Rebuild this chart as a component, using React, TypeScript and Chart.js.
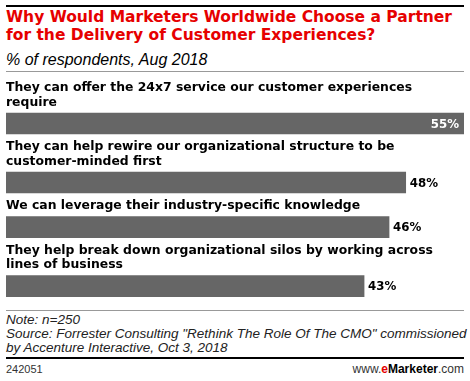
import React, { useEffect, useRef } from "react";
import { Chart, registerables } from "chart.js";

Chart.register(...registerables);

// ---- data ----
const categoryLines: string[][] = [
  ["They can offer the 24x7 service our customer experiences", "require"],
  ["They can help rewire our organizational structure to be", "customer-minded first"],
  ["We can leverage their industry-specific knowledge"],
  ["They help break down organizational silos by working across", "lines of business"],
];
const values: number[] = [55, 48, 46, 43];
const valueLabels: string[] = ["55%", "48%", "46%", "43%"];
const xMax = 55;

const titleLines = [
  "Why Would Marketers Worldwide Choose a Partner",
  "for the Delivery of Customer Experiences?",
];
const subtitle = "% of respondents, Aug 2018";
const noteLines = [
  "Note: n=250",
  'Source: Forrester Consulting "Rethink The Role Of The CMO" commissioned',
  "by Accenture Interactive, Oct 3, 2018",
];
const chartId = "242051";

// layout in "line units" (one label line = 1 unit)
const LINE_PX = 14.5;
const BAR_AFTER_LAST_LINE = 1.45;
const NEXT_AFTER_BAR = 1.62;

function computePositions() {
  const linePos: number[][] = [];
  const barPos: number[] = [];
  let cur = 0;
  categoryLines.forEach((lines) => {
    const lp = lines.map((_, i) => cur + i);
    linePos.push(lp);
    const b = lp[lp.length - 1] + BAR_AFTER_LAST_LINE;
    barPos.push(b);
    cur = b + NEXT_AFTER_BAR;
  });
  return { linePos, barPos };
}

const CANVAS_TOP = 75;
const CANVAS_H = 232;
const FIRST_LINE_Y = 13; // px inside canvas

const LABEL_FONT = "bold 12.4px 'DejaVu Sans'";
const VALUE_FONT = "bold 11.8px 'DejaVu Sans'";

export default function App() {
  const ref = useRef<HTMLCanvasElement | null>(null);

  useEffect(() => {
    if (!ref.current) return;
    const { linePos, barPos } = computePositions();
    const yMin = -FIRST_LINE_Y / LINE_PX;
    const yMax = yMin + CANVAS_H / LINE_PX;

    const labelPlugin = {
      id: "labelPlugin",
      afterDatasetsDraw(chart: any) {
        const ctx = chart.ctx as CanvasRenderingContext2D;
        const yScale = chart.scales.y;
        const area = chart.chartArea;
        const meta = chart.getDatasetMeta(0);
        ctx.save();
        ctx.font = LABEL_FONT;
        ctx.fillStyle = "#000";
        ctx.textAlign = "left";
        ctx.textBaseline = "middle";
        categoryLines.forEach((lines, i) => {
          lines.forEach((t, j) => {
            ctx.fillText(t, area.left, yScale.getPixelForValue(linePos[i][j]));
          });
        });
        ctx.font = VALUE_FONT;
        meta.data.forEach((bar: any, i: number) => {
          const txt = valueLabels[i];
          const w = ctx.measureText(txt).width;
          if (bar.x + 4 + w > area.right) {
            ctx.fillStyle = "#fff";
            ctx.textAlign = "right";
            ctx.fillText(txt, bar.x - 5, bar.y + 1);
          } else {
            ctx.fillStyle = "#000";
            ctx.textAlign = "left";
            ctx.fillText(txt, bar.x + 4, bar.y + 1);
          }
        });
        ctx.restore();
      },
    };

    const chart = new Chart(ref.current, {
      type: "bar",
      data: {
        datasets: [
          {
            data: values.map((v, i) => ({ x: v, y: barPos[i] })),
            backgroundColor: "#666666",
            borderWidth: 0,
            barThickness: 21,
          },
        ],
      },
      options: {
        indexAxis: "y",
        responsive: false,
        animation: false,
        devicePixelRatio: 1,
        layout: { padding: { left: 6, right: 6, top: 0, bottom: 0 } },
        plugins: { legend: { display: false }, tooltip: { enabled: false } },
        scales: {
          x: { type: "linear", min: 0, max: xMax, display: false, offset: false },
          y: { type: "linear", min: yMin, max: yMax, reverse: true, display: false, offset: false },
        },
      } as any,
      plugins: [labelPlugin],
    });
    return () => chart.destroy();
  }, []);

  const abs = (s: React.CSSProperties): React.CSSProperties => ({ position: "absolute", ...s });

  return (
    <div style={{ position: "fixed", left: 0, top: 0, width: 470, height: 381, background: "#fff", overflow: "hidden" }}>
      <div style={abs({ left: 6, top: 5, width: 458, height: 2, background: "#000" })} />
      <div
        style={abs({
          left: 6,
          top: 8,
          font: "bold 15.5px 'DejaVu Sans'",
          lineHeight: "18px",
          color: "#e60000",
          whiteSpace: "nowrap",
        })}
      >
        {titleLines.map((t) => (
          <div key={t}>{t}</div>
        ))}
      </div>
      <div
        style={abs({
          left: 6,
          top: 51,
          font: "italic 16px 'Liberation Sans'",
          lineHeight: "17px",
          color: "#000",
          whiteSpace: "nowrap",
        })}
      >
        {subtitle}
      </div>
      <div style={abs({ left: 6, top: 71, width: 458, height: 1, background: "#999" })} />
      <canvas ref={ref} width={470} height={CANVAS_H} style={abs({ left: 0, top: CANVAS_TOP, width: 470, height: CANVAS_H })} />
      <div style={abs({ left: 6, top: 310, width: 458, height: 1, background: "#999" })} />
      <div
        style={abs({
          left: 6,
          top: 313,
          font: "italic 13.5px 'Liberation Sans'",
          lineHeight: "14px",
          color: "#222",
          whiteSpace: "nowrap",
        })}
      >
        {noteLines.map((t) => (
          <div key={t}>{t}</div>
        ))}
      </div>
      <div style={abs({ left: 6, top: 357, width: 458, height: 2, background: "#000" })} />
      <div style={abs({ left: 6, top: 362, font: "11px 'Liberation Sans'", lineHeight: "14px", color: "#333" })}>{chartId}</div>
      <div style={abs({ right: 6, top: 362, font: "12px 'Liberation Sans'", lineHeight: "14px", color: "#333", whiteSpace: "nowrap" })}>
        www.<span style={{ color: "#e60000", fontWeight: "bold" }}>e</span>
        <span style={{ color: "#000", fontWeight: "bold" }}>Marketer</span>.com
      </div>
    </div>
  );
}
